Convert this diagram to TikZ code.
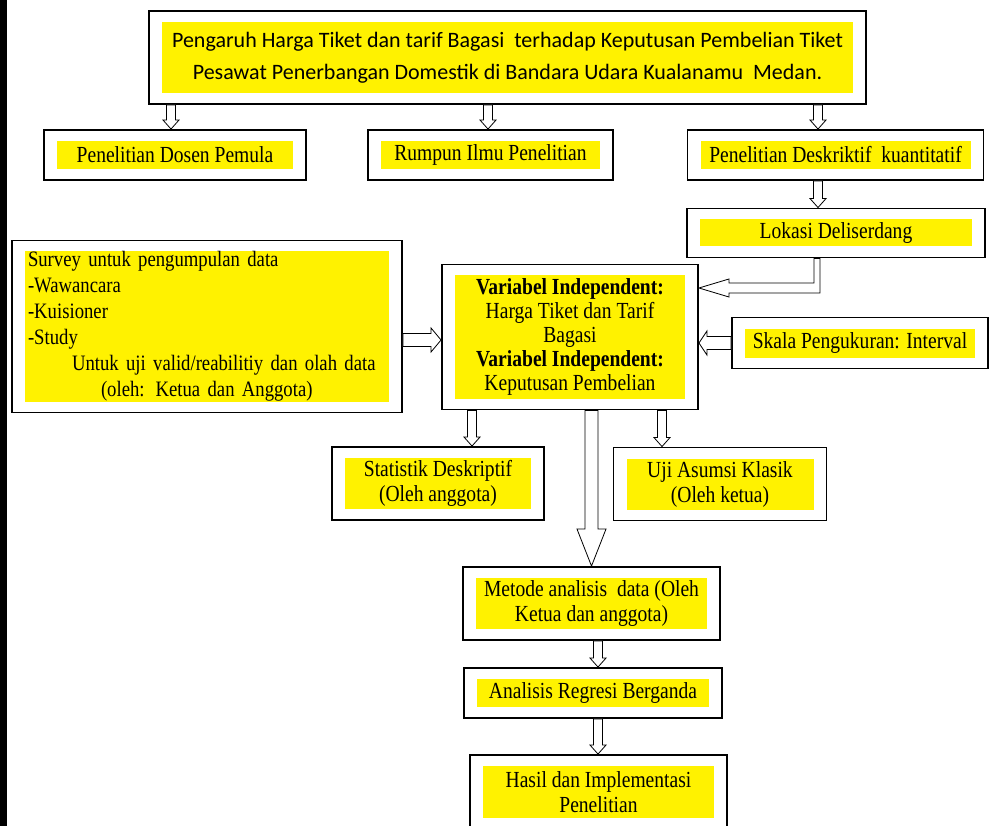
\documentclass[tikz,border=0pt]{standalone}
\usepackage{fontspec}
\setmainfont{Liberation Serif}[FakeStretch=0.85]
\newfontfamily\calibri{Carlito}
\usetikzlibrary{calc,fit}

\tikzset{
    hl/.style = {fill = yellow, inner sep = 0pt, align = center,
        font = \fontsize{23}{25}\selectfont},
    frame/.style = {draw, line width = 1.5pt, inner xsep = 13pt, inner ysep = 11pt},
    hollow/.style = {draw, fill = white, line width = 0.8pt},
}

% hollow block arrow: half shaft, half head, head length, from, tip
\newcommand\blockarr[5]{%
    \draw [hollow]
        ($(#4)!#1!90:(#5)$)
        -- ($(#5)!#3!(#4)!#1!-90:(#4)$)
        -- ($(#5)!#3!(#4)!#2!-90:(#4)$)
        -- (#5)
        -- ($(#5)!#3!(#4)!#2!90:(#4)$)
        -- ($(#5)!#3!(#4)!#1!90:(#4)$)
        -- ($(#4)!#1!-90:(#5)$)
        -- cycle;
}

\begin{document}
\begin{tikzpicture}[x = 1pt, y = -1pt]
    \useasboundingbox (0, 0) rectangle (990, 826);
    \fill (0, 0) rectangle (7, 826);

    % yellow texts
    \node [hl, minimum width = 691pt, minimum height = 71pt,
        font = \calibri\fontsize{22}{32}\selectfont] (titleT) at (507.5, 57.5)
        {Pengaruh Harga Tiket dan tarif Bagasi\ \ terhadap Keputusan Pembelian Tiket\\
         Pesawat Penerbangan Domestik di Bandara Udara Kualanamu\ \ Medan.};
    \node [hl, minimum width = 236pt, minimum height = 28pt] (dosenT) at (175, 155) {Penelitian Dosen Pemula};
    \node [hl, minimum width = 219pt, minimum height = 28pt] (rumpunT) at (490.5, 155) {Rumpun Ilmu Penelitian};
    \node [hl, minimum width = 270pt, minimum height = 28pt] (deskT) at (835.5, 155) {Penelitian Deskriktif\ \ kuantitatif};
    \node [hl, minimum width = 272pt, minimum height = 27pt] (lokasiT) at (836, 233) {Lokasi Deliserdang};
    \node [hl, align = left, text width = 358pt, inner xsep = 3pt, minimum height = 147pt,
        font = \fontsize{22}{26}\selectfont] (surveyT) at (207, 326.5)
        {Survey untuk pengumpulan data\\
         -Wawancara\\
         -Kuisioner\\
         -Study\\
         \hspace*{44pt}Untuk uji valid/reabilitiy dan olah data\\
         \hspace*{73pt}(oleh: Ketua dan Anggota)};
    \node [hl, minimum width = 230pt, minimum height = 123pt, font = \fontsize{23}{24}\selectfont] (varsT) at (570, 337)
        {\textbf{Variabel Independent:}\\
         Harga Tiket dan Tarif\\
         Bagasi\\
         \textbf{Variabel Independent:}\\
         Keputusan Pembelian};
    \node [hl, minimum width = 230pt, minimum height = 29pt] (skalaT) at (860, 343) {Skala Pengukuran: Interval};
    \node [hl, minimum width = 186pt, minimum height = 51pt] (statT) at (438, 483.5) {Statistik Deskriptif\\(Oleh anggota)};
    \node [hl, minimum width = 187pt, minimum height = 51pt] (ujiT) at (720, 484) {Uji Asumsi Klasik\\(Oleh ketua)};
    \node [hl, minimum width = 231pt, minimum height = 51pt] (metodeT) at (591.5, 603.5) {Metode analisis\ \ data (Oleh\\ Ketua dan anggota)};
    \node [hl, minimum width = 232pt, minimum height = 28pt] (analisisT) at (593, 693) {Analisis Regresi Berganda};
    \node [hl, minimum width = 231pt, minimum height = 52pt] (hasilT) at (598.5, 792) {Hasil dan Implementasi\\ Penelitian};

    % frames
    \node [frame, fit = (titleT)] (title) {};
    \node [frame, fit = (dosenT)] (dosen) {};
    \node [frame, fit = (rumpunT)] (rumpun) {};
    \node [frame, fit = (deskT)] (desk) {};
    \node [frame, fit = (lokasiT)] (lokasi) {};
    \node [frame, fit = (surveyT)] (survey) {};
    \node [frame, fit = (varsT)] (vars) {};
    \node [frame, fit = (skalaT)] (skala) {};
    \node [frame, fit = (statT)] (stat) {};
    \node [frame, fit = (ujiT)] (uji) {};
    \node [frame, fit = (metodeT)] (metode) {};
    \node [frame, fit = (analisisT)] (analisis) {};
    \node [frame, fit = (hasilT)] (hasil) {};

    % arrow columns
    \coordinate (colA) at (171, 0);
    \coordinate (colB) at (488, 0);
    \coordinate (colC) at (818, 0);
    \coordinate (colD) at (472, 0);
    \coordinate (colE) at (662, 0);
    \coordinate (colF) at (598, 0);
    \coordinate (rowS) at (0, 340);
    \coordinate (bend) at (817, 288);

    \blockarr{4.5pt}{8pt}{9pt}{title.south -| colA}{dosen.north -| colA}
    \blockarr{4.5pt}{8pt}{9pt}{title.south -| colB}{rumpun.north -| colB}
    \blockarr{4.5pt}{8pt}{9pt}{title.south -| colC}{desk.north -| colC}
    \blockarr{4.5pt}{8pt}{9pt}{desk.south -| colC}{lokasi.north -| colC}

    \draw [hollow]
        ($(lokasi.south -| bend) + (-3, 0)$) -- ($(bend) + (-3, -5)$)
        -- ($(vars.east |- bend) + (30, -5)$) -- ($(vars.east |- bend) + (30, -9)$)
        -- (vars.east |- bend)
        -- ($(vars.east |- bend) + (30, 9)$) -- ($(vars.east |- bend) + (30, 5)$)
        -- ($(bend) + (3, 5)$) -- ($(lokasi.south -| bend) + (3, 0)$) -- cycle;

    \blockarr{6.5pt}{12pt}{10pt}{survey.east |- rowS}{vars.west |- rowS}
    \blockarr{6.5pt}{12pt}{8pt}{skala.west}{vars.east |- skala.west}

    \blockarr{4.5pt}{8pt}{9pt}{vars.south -| colD}{stat.north -| colD}
    \blockarr{4.5pt}{8pt}{9pt}{vars.south -| colE}{uji.north -| colE}
    \blockarr{6.5pt}{14.5pt}{37pt}{vars.south -| metode.north}{metode.north}

    \blockarr{4.5pt}{8pt}{9pt}{metode.south -| colF}{analisis.north -| colF}
    \blockarr{4.5pt}{8pt}{9pt}{analisis.south -| colF}{hasil.north -| colF}
\end{tikzpicture}
\end{document}
